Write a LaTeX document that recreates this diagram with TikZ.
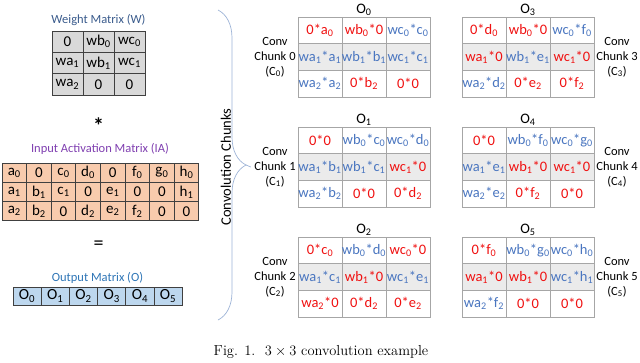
\documentclass[tikz,border=0pt]{standalone}
\usepackage{fontspec}
\usetikzlibrary{decorations.pathreplacing}
\newfontfamily\calibri{Carlito}
\newcommand{\low}[1]{\textsubscript{#1}}
\definecolor{wtitle}{HTML}{3A5B8C}
\definecolor{iatitle}{HTML}{7F3FB0}
\definecolor{otitle}{HTML}{2E75B6}
\definecolor{matline}{HTML}{404040}
\definecolor{wfill}{HTML}{D9D9D9}
\definecolor{iafill}{HTML}{F8CBAD}
\definecolor{ofill}{HTML}{BDD7EE}
\definecolor{gridline}{HTML}{A6A6A6}
\definecolor{midrow}{HTML}{EBEBEB}
\definecolor{zerored}{HTML}{F01010}
\definecolor{liveblue}{HTML}{4A76C0}
\definecolor{braceblue}{HTML}{9DB3D6}

\begin{document}
\begin{tikzpicture}[x=1pt, y=-1pt]
    \tikzset{mat/.style={draw=matline, line width=0.9pt, inner sep=0pt,
               font=\calibri\fontsize{15}{16}\selectfont},
             wcell/.style={mat, fill=wfill, minimum width=31pt, minimum height=21.3pt},
             iacell/.style={mat, fill=iafill, minimum width=24.6pt, minimum height=19.3pt},
             ocell/.style={mat, fill=ofill, minimum width=28.2pt, minimum height=18pt,
               font=\calibri\fontsize{15.5}{16}\selectfont},
             prod/.style={draw=gridline, line width=0.8pt, inner sep=0pt, minimum width=44pt,
               minimum height=26.6pt, font=\calibri\fontsize{14.5}{15}\selectfont},
             rd/.style={text=zerored}, bl/.style={text=liveblue},
             title/.style={font=\calibri\fontsize{12.5}{14}\selectfont},
             chunklab/.style={align=center, font=\calibri\fontsize{12.5}{15}\selectfont}}
    \useasboundingbox (0,0) rectangle (640,362);
    % weight matrix
    \node[title, text=wtitle] (wtitle) at (98.5,20) {Weight Matrix (W)};
    \foreach \t [count=\i from 0] in {0, wb\low0, wc\low0, wa\low1, wb\low1, wc\low1, wa\low2, 0, 0} {
      \pgfmathtruncatemacro\row{\i/3}
      \pgfmathtruncatemacro\col{mod(\i,3)}
      \node[wcell] (w\i) at ({67.5+31*\col},{41.7+21.3*\row}) {\t};
    }
    \node[font=\calibri\bfseries\fontsize{22}{22}\selectfont] (times) at (98.5,126) {*};
    % input activation matrix
    \node[title, text=iatitle] (iatitle) at (100,149) {Input Activation Matrix (IA)};
    \foreach \t [count=\i from 0] in {a\low0, 0, c\low0, d\low0, 0, f\low0, g\low0, h\low0,
        a\low1, b\low1, c\low1, 0, e\low1, 0, 0, h\low1,
        a\low2, b\low2, 0, d\low2, e\low2, f\low2, 0, 0} {
      \pgfmathtruncatemacro\row{\i/8}
      \pgfmathtruncatemacro\col{mod(\i,8)}
      \node[iacell] (ia\i) at ({14.3+24.6*\col},{172.6+19.3*\row}) {\t};
    }
    \node[font=\calibri\fontsize{20}{20}\selectfont] (equals) at (98.5,245) {=};
    % output matrix
    \node[title, text=otitle] (otitle) at (97.5,278) {Output Matrix (O)};
    \foreach \i in {0,...,5}
      \node[ocell] (out\i) at ({27.1+28.2*\i},296) {O\low\i};
    % convolution chunks
    \foreach \k/\cx/\cy/\lx/\cells in {
        0/364/57/275/{0*a\low0/rd, wb\low0*0/rd, wc\low0*c\low0/bl,
          wa\low1*a\low1/bl, wb\low1*b\low1/bl, wc\low1*c\low1/bl,
          wa\low2*a\low2/bl, 0*b\low2/rd, 0*0/rd},
        1/364/167/275/{0*0/rd, wb\low0*c\low0/bl, wc\low0*d\low0/bl,
          wa\low1*b\low1/bl, wb\low1*c\low1/bl, wc\low1*0/rd,
          wa\low2*b\low2/bl, 0*0/rd, 0*d\low2/rd},
        2/364/277/275/{0*c\low0/rd, wb\low0*d\low0/bl, wc\low0*0/rd,
          wa\low1*c\low1/bl, wb\low1*0/rd, wc\low1*e\low1/bl,
          wa\low2*0/rd, 0*d\low2/rd, 0*e\low2/rd},
        3/528/57/617/{0*d\low0/rd, wb\low0*0/rd, wc\low0*f\low0/bl,
          wa\low1*0/rd, wb\low1*e\low1/bl, wc\low1*0/rd,
          wa\low2*d\low2/bl, 0*e\low2/rd, 0*f\low2/rd},
        4/528/167/617/{0*0/rd, wb\low0*f\low0/bl, wc\low0*g\low0/bl,
          wa\low1*e\low1/bl, wb\low1*0/rd, wc\low1*0/rd,
          wa\low2*e\low2/bl, 0*f\low2/rd, 0*0/rd},
        5/528/277/617/{0*f\low0/rd, wb\low0*g\low0/bl, wc\low0*h\low0/bl,
          wa\low1*0/rd, wb\low1*0/rd, wc\low1*h\low1/bl,
          wa\low2*f\low2/bl, 0*0/rd, 0*0/rd}} {
      \node[font=\calibri\fontsize{14.5}{15}\selectfont] (olab\k) at (\cx,\cy-47) {O\low\k};
      \node[chunklab] (clab\k) at (\lx,\cy) {Conv\\Chunk \k\\(C\low\k)};
      \foreach \t/\s [count=\i from 0] in \cells {
        \pgfmathtruncatemacro\row{\i/3}
        \pgfmathtruncatemacro\col{mod(\i,3)}
        \ifnum\row=1 \def\cellfill{midrow}\else\def\cellfill{white}\fi
        \node[prod, \s, fill=\cellfill] (c\k-\i) at ({\cx+44*(\col-1)},{\cy+26.6*(\row-1)}) {\t};
      }
    }
    % brace over the chunks
    \draw[braceblue, line width=0.7pt, decorate, decoration={brace, amplitude=28pt}] (218,10) -- (218,320);
    \node[font=\calibri\fontsize{14.5}{15}\selectfont, rotate=90] (cclab) at (226,167) {Convolution Chunks};
    \coordinate (btip) at (246,165);
    \draw[braceblue, line width=0.7pt] (btip) -- (clab1.west);
    % caption
    \node[font=\fontsize{14.5}{16}\selectfont] (caption) at (321,352) {Fig. 1.\ \ $3\times3$ convolution example};
\end{tikzpicture}
\end{document}
